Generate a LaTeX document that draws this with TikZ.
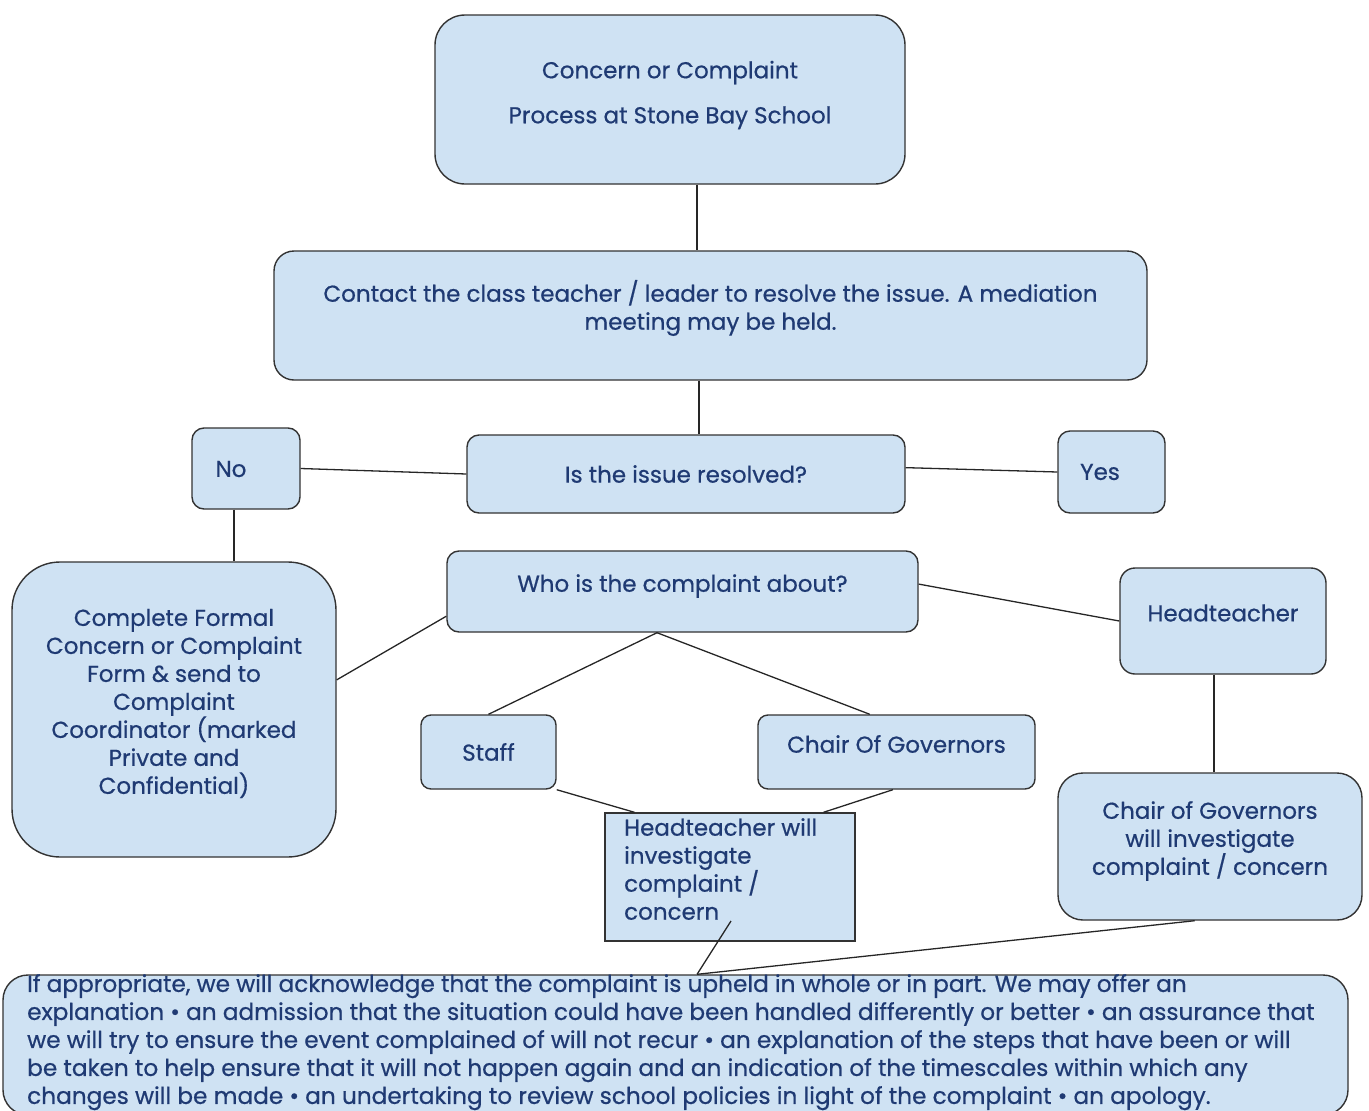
\documentclass[tikz,border=0pt]{standalone}
\usepackage{fontspec}
\setmainfont{Poppins}[FakeBold=0.6]
\usetikzlibrary{calc}
\definecolor{boxfill}{HTML}{CFE2F3}
\definecolor{boxline}{HTML}{333333}
\definecolor{ink}{HTML}{1F3A73}
\begin{document}
\begin{tikzpicture}[x=1pt,y=-1pt,
  box/.style={draw=boxline, fill=boxfill, line width=1.4pt, inner sep=0pt},
  txt/.style={text=ink, font=\fontsize{23}{28}\selectfont, inner sep=0pt, align=center},
  conn/.style={draw=black!85, line width=1.3pt}]
\useasboundingbox (0,0) rectangle (1369,1111);

% boxes
\node[box, rounded corners=30pt, minimum width=470pt, minimum height=169pt] (title) at (670,99.5) {};
\node[box, rounded corners=20pt, minimum width=873pt, minimum height=129pt] (contact) at (710.5,315.5) {};
\node[box, rounded corners=12pt, minimum width=438pt, minimum height=78pt] (resolved) at (686,474) {};
\node[box, rounded corners=12pt, minimum width=108pt, minimum height=81pt] (no) at (246,468.5) {};
\node[box, rounded corners=12pt, minimum width=107pt, minimum height=82pt] (yes) at (1111.5,472) {};
\node[box, rounded corners=48pt, minimum width=324pt, minimum height=295pt] (complete) at (174,709.5) {};
\node[box, rounded corners=12pt, minimum width=471pt, minimum height=81pt] (who) at (682.5,591.5) {};
\node[box, rounded corners=15pt, minimum width=206pt, minimum height=106pt] (head) at (1223,621) {};
\node[box, rounded corners=10pt, minimum width=135pt, minimum height=74pt] (staff) at (488.5,752) {};
\node[box, rounded corners=10pt, minimum width=277pt, minimum height=74pt] (chairgov) at (896.5,752) {};
\node[box, rounded corners=25pt, minimum width=304pt, minimum height=147pt] (chairinv) at (1210,846.5) {};
\node[box, minimum width=250pt, minimum height=128pt] (htinv) at (730,877) {};
\node[box, rounded corners=25pt, minimum width=1345pt, minimum height=140pt] (final) at (675.5,1045) {};

% texts
\node[txt, font=\fontsize{23}{45}\selectfont] (titletext) at (670,95) {Concern or Complaint\\Process at Stone Bay School};
\node[txt] (contacttext) at (710.5,308) {Contact the class teacher / leader to resolve the issue. A mediation\\meeting may be held.};
\node[txt] (resolvedtext) at (686,474) {Is the issue resolved?};
\node[txt] (notext) at (231,469) {No};
\node[txt] (yestext) at (1100,472) {Yes};
\node[txt] (completetext) at (174,703.5) {Complete Formal\\Concern or Complaint\\Form \& send to\\Complaint\\Coordinator (marked\\Private and\\Confidential)};
\node[txt] (whotext) at (682.5,586) {Who is the complaint about?};
\node[txt] (headtext) at (1223,613) {Headteacher};
\node[txt] (stafftext) at (488.5,752) {Staff};
\node[txt] (chairgovtext) at (896.5,744) {Chair Of Governors};
\node[txt] (chairinvtext) at (1210,841) {Chair of Governors\\will investigate\\complaint / concern};
\node[txt, align=left, anchor=north west] (htinvtext) at (624,818) {Headteacher will\\investigate\\complaint /\\concern};
\node[txt, font=\fontsize{23.2}{28}\selectfont, align=left, anchor=north west] (finaltext) at (27,974) {If appropriate, we will acknowledge that the complaint is upheld in whole or in part. We may offer an\\explanation • an admission that the situation could have been handled differently or better • an assurance that\\we will try to ensure the event complained of will not recur • an explanation of the steps that have been or will\\be taken to help ensure that it will not happen again and an indication of the timescales within which any\\changes will be made • an undertaking to review school policies in light of the complaint • an apology.};

% connector points
\coordinate (t1) at ($(title.south west)!0.557!(title.south east)$);
\coordinate (c1) at ($(contact.south west)!0.487!(contact.south east)$);
\coordinate (n1) at ($(no.south west)!0.39!(no.south east)$);
\coordinate (cp1) at ($(complete.north east)!0.4!(complete.south east)$);
\coordinate (w1) at ($(who.north west)!0.8!(who.south west)$);
\coordinate (w2) at ($(who.north east)!0.41!(who.south east)$);
\coordinate (w3) at ($(who.south west)!0.446!(who.south east)$);
\coordinate (r1) at ($(resolved.north east)!0.42!(resolved.south east)$);
\coordinate (h1) at ($(head.south west)!0.456!(head.south east)$);
\coordinate (cg1) at ($(chairgov.north west)!0.404!(chairgov.north east)$);
\coordinate (cg2) at ($(chairgov.south west)!0.487!(chairgov.south east)$);
\coordinate (ht1) at ($(htinv.north west)!0.12!(htinv.north east)$);
\coordinate (ht2) at ($(htinv.north west)!0.872!(htinv.north east)$);
\coordinate (ht3) at (731,921);
\coordinate (ci1) at ($(chairinv.south west)!0.45!(chairinv.south east)$);
\coordinate (bj) at ($(final.north west)!0.516!(final.north east)$);

% connectors
\draw[conn] (t1) -- (t1 |- contact.north);
\draw[conn, line width=2.2pt] (c1) -- (c1 |- resolved.north);
\draw[conn] (no.east) -- (resolved.west);
\draw[conn] (r1) -- (yes.west);
\draw[conn] (n1) -- (n1 |- complete.north);
\draw[conn] (cp1) -- (w1);
\draw[conn] (w2) -- (head.west);
\draw[conn] (h1) -- (h1 |- chairinv.north);
\draw[conn] (w3) -- (staff.north);
\draw[conn] (w3) -- (cg1);
\draw[conn] (staff.south east) -- (ht1);
\draw[conn] (cg2) -- (ht2);
\draw[conn] (ht3) -- (bj);
\draw[conn] (ci1) -- (bj);
\end{tikzpicture}
\end{document}
